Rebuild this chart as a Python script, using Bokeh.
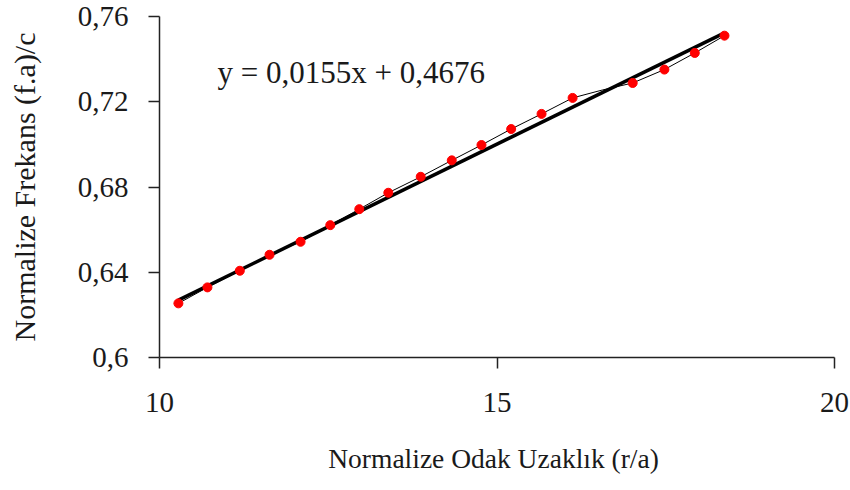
from bokeh.plotting import figure
from bokeh.models import Label, FixedTicker, CustomJSTickFormatter, Range1d
from bokeh.embed import file_html
from bokeh.resources import INLINE

# Data
r_over_a = [10.28, 10.71, 11.19, 11.63, 12.09, 12.53, 12.96, 13.39, 13.87, 14.33,
            14.77, 15.21, 15.66, 16.12, 16.56, 17.01, 17.48, 17.93, 18.37]
freq = [0.6254, 0.6329, 0.6407, 0.6482, 0.6543, 0.6621, 0.6696, 0.6773, 0.6848, 0.6925,
        0.6997, 0.7072, 0.7143, 0.7218, 0.7255, 0.7288, 0.7351, 0.7429, 0.7510]
marker_shown = [True] * 14 + [False] + [True] * 4
slope = 0.0155
intercept = 0.4676
x_ticks = [10, 15, 20]
y_ticks = [0.6, 0.64, 0.68, 0.72, 0.76]
equation_text = "y = 0,0155x + 0,4676"
x_title = "Normalize Odak Uzaklık  (r/a)"
y_title = "Normalize Frekans (f.a)/c"

FONT = "Liberation Serif"
INK = "#1a1a1a"

p = figure(width=850, height=490, output_backend="svg", toolbar_location=None,
           x_range=Range1d(10, 20), y_range=Range1d(0.6, 0.76),
           min_border_left=159, min_border_right=16, min_border_top=16, min_border_bottom=133)
p.outline_line_color = None
p.xgrid.visible = False
p.ygrid.visible = False

# thin line connecting the data points
p.line(r_over_a, freq, line_color="black", line_width=1)

# linear trend line
tx = [r_over_a[0], r_over_a[-1]]
ty = [slope * v + intercept for v in tx]
p.line(tx, ty, line_color="black", line_width=3.5)

# markers
mx = [x for x, s in zip(r_over_a, marker_shown) if s]
my = [y for y, s in zip(freq, marker_shown) if s]
p.scatter(mx, my, size=9, fill_color="#ff0000", line_color="#ff0000")

p.add_layout(Label(x=10.859, y=0.7335, text=equation_text, text_font=FONT,
                   text_font_size="31px", text_color=INK, text_baseline="alphabetic"))

fmt = CustomJSTickFormatter(code="return String(Math.round(tick*100)/100).replace('.', ',');")

for ax in (p.xaxis[0], p.yaxis[0]):
    ax.axis_line_color = "#222"
    ax.axis_line_width = 1.5
    ax.major_tick_line_color = "#222"
    ax.major_tick_line_width = 1.5
    ax.major_tick_in = 0
    ax.major_tick_out = 11
    ax.minor_tick_line_color = None
    ax.major_label_text_font = FONT
    ax.major_label_text_font_size = "29px"
    ax.major_label_text_color = INK
    ax.axis_label_text_font = FONT
    ax.axis_label_text_font_style = "normal"
    ax.axis_label_text_color = INK
    ax.formatter = fmt

p.xaxis[0].ticker = FixedTicker(ticks=x_ticks)
p.yaxis[0].ticker = FixedTicker(ticks=y_ticks)
p.xaxis[0].axis_label = x_title
p.yaxis[0].axis_label = y_title
p.xaxis[0].axis_label_text_font_size = "27.5px"
p.yaxis[0].axis_label_text_font_size = "30px"
p.xaxis[0].major_label_standoff = 24
p.yaxis[0].major_label_standoff = 20
p.xaxis[0].axis_label_standoff = 28
p.yaxis[0].axis_label_standoff = 34

open("out.html", "w").write(file_html(p, INLINE))
